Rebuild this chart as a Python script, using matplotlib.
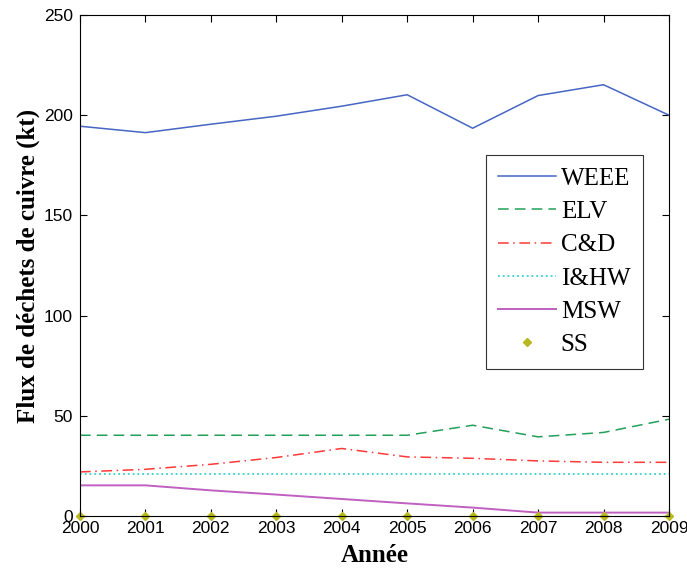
import matplotlib
matplotlib.use("Agg")
import matplotlib.pyplot as plt

years = [2000, 2001, 2002, 2003, 2004, 2005, 2006, 2007, 2008, 2009]
weee = [194.5, 191.3, 195.5, 199.5, 204.5, 210.2, 193.5, 209.8, 215.2, 200.0]
elv = [40.3, 40.3, 40.3, 40.3, 40.3, 40.3, 45.3, 39.5, 41.7, 48.3]
cd = [22.0, 23.3, 25.8, 29.2, 33.7, 29.5, 28.8, 27.5, 26.8, 26.8]
ihw = [21.2] * 10
msw = [15.3, 15.3, 12.8, 10.7, 8.5, 6.3, 4.2, 1.7, 1.7, 1.7]
ss = [0] * 10

serif = "Liberation Serif"
sans = "Liberation Sans"

fig = plt.figure(figsize=(6.87, 5.70), dpi=100)
ax = fig.add_axes([0.1164, 0.0947, 0.8574, 0.879])

ax.plot(years, weee, "-", color="#4666c4", lw=1.1, label="WEEE")
ax.plot(years, elv, "--", color="#22a05a", lw=1.1, dashes=(7, 4), label="ELV")
ax.plot(years, cd, "-.", color="#ff3838", lw=1.1, dashes=(7, 3, 1, 3), label="C&D")
ax.plot(years, ihw, ":", color="#38d0d0", lw=1.3, label="I&HW")
ax.plot(years, msw, "-", color="#c060c0", lw=1.4, label="MSW")
ax.plot(years, ss, linestyle="none", marker="D", ms=4, color="#b8b820",
        label="SS", clip_on=False)

ax.set_xlim(2000, 2009)
ax.set_ylim(0, 250)
ax.set_xticks(years)
ax.set_yticks([0, 50, 100, 150, 200, 250])
ax.tick_params(direction="in", top=True, right=True, length=5, width=0.8,
               labelsize=12.5)
ax.tick_params(axis="y", pad=5)
for lbl in ax.get_xticklabels() + ax.get_yticklabels():
    lbl.set_family(sans)

ax.set_xlabel("Année", fontfamily=serif, fontweight="bold", fontsize=18,
              labelpad=6)
ax.set_ylabel("Flux de déchets de cuivre (kt)", fontfamily=serif,
              fontweight="bold", fontsize=18, labelpad=3)

leg = ax.legend(loc="upper left", bbox_to_anchor=(0.689, 0.721),
                prop={"family": serif, "size": 18}, frameon=True,
                fancybox=False, edgecolor="black", handlelength=2.3,
                labelspacing=0.43, borderpad=0.5, handletextpad=0.2,
                borderaxespad=0)
leg.get_frame().set_linewidth(0.8)

fig.savefig("out.png", dpi=100)
